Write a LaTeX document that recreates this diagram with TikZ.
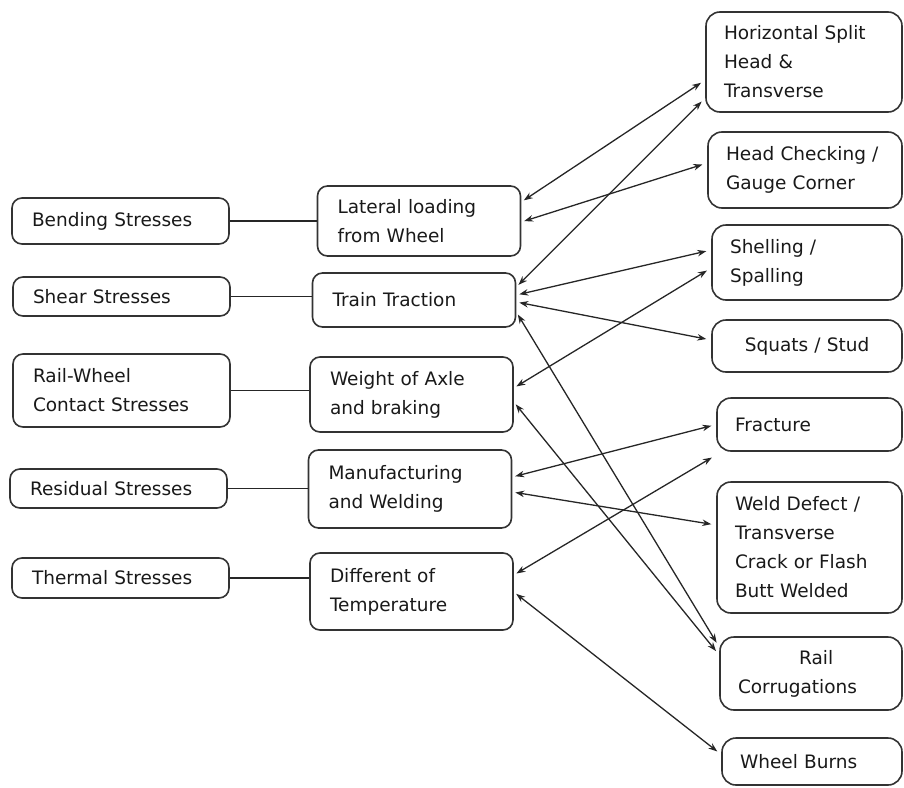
\documentclass[tikz,border=0pt]{standalone}
\usepackage{fontspec}
\setmainfont{DejaVu Sans}
\usetikzlibrary{arrows.meta}

\tikzset{
  box/.style={draw=black!80, line width=1.6pt, rounded corners=10pt, inner xsep=20pt, align=left,
    text=black!90, font=\fontsize{18.5}{29}\selectfont},
  stressbox/.style={box, text width=177pt},
  causebox/.style={box, text width=163pt},
  defectbox/.style={box, rounded corners=14pt, inner xsep=18pt},
  plain/.style={line width=1.5pt, draw=black!85},
  twoway/.style={{Stealth[length=9pt,width=6.5pt]}-{Stealth[length=9pt,width=6.5pt]}, line width=1.3pt,
    draw=black!85, shorten <=3pt, shorten >=5pt}
}

\begin{document}
\begin{tikzpicture}[x=1pt,y=-1pt]
\useasboundingbox (0,0) rectangle (904,787);

\node[stressbox, minimum height=46pt] (bend) at (120.5,221) {Bending Stresses};
\node[stressbox, minimum height=39pt] (shear) at (121.5,296.5) {Shear Stresses};
\node[stressbox, minimum height=73pt] (contact) at (121.5,390.5) {Rail-Wheel\\Contact Stresses};
\node[stressbox, minimum height=39pt] (resid) at (118.5,488.5) {Residual Stresses};
\node[stressbox, minimum height=40pt] (therm) at (120.5,578) {Thermal Stresses};

\node[causebox, minimum height=70pt] (lat) at (419,221) {Lateral loading\\from Wheel};
\node[causebox, minimum height=54pt] (trac) at (414,300) {Train Traction};
\node[causebox, minimum height=75pt] (axle) at (411.5,394.5) {Weight of Axle\\and braking};
\node[causebox, minimum height=78pt] (manu) at (410,489) {Manufacturing\\and Welding};
\node[causebox, minimum height=77pt] (temp) at (411.5,591.5) {Different of\\Temperature};

\node[defectbox, text width=160pt, minimum height=100pt] (split) at (804,62) {Horizontal Split\\Head \&\\Transverse};
\node[defectbox, text width=158pt, minimum height=76pt] (check) at (805,170) {Head Checking /\\Gauge Corner};
\node[defectbox, text width=154pt, minimum height=75pt] (shell) at (807,262.5) {Shelling /\\Spalling};
\node[defectbox, text width=154pt, minimum height=52pt, align=center] (squat) at (807,346) {Squats / Stud};
\node[defectbox, text width=149pt, minimum height=53pt] (frac) at (809.5,424.5) {Fracture};
\node[defectbox, text width=149pt, minimum height=131pt] (weld) at (809.5,547.5) {Weld Defect /\\Transverse\\Crack or Flash\\Butt Welded};
\node[defectbox, text width=146pt, minimum height=73pt] (corr) at (811,673.5) {\hspace*{3.3em}Rail\\Corrugations};
\node[defectbox, text width=144pt, minimum height=47pt] (burn) at (812,761.5) {Wheel Burns};

\draw[plain] (bend.east) -- (bend.east -| lat.west);
\draw[plain] (shear.east) -- (shear.east -| trac.west);
\draw[plain] (contact.east) -- (contact.east -| axle.west);
\draw[plain] (resid.east) -- (resid.east -| manu.west);
\draw[plain] (therm.east) -- (therm.east -| temp.west);

\draw[twoway] ([yshift=19pt]lat.east) -- ([yshift=-18pt]split.west);
\draw[twoway] ([yshift=-1pt]lat.east) -- ([yshift=7pt]check.west);
\draw[twoway] ([yshift=13pt]trac.east) -- ([yshift=-36pt]split.west);
\draw[twoway] ([yshift=5pt]trac.east) -- ([yshift=12.5pt]shell.west);
\draw[twoway] ([yshift=-2pt]trac.east) -- ([yshift=6pt]squat.west);
\draw[twoway] ([yshift=-12pt]trac.east) -- ([yshift=26.5pt]corr.west);
\draw[twoway] ([yshift=6.5pt]axle.east) -- ([yshift=-5.5pt]shell.west);
\draw[twoway] ([yshift=-7.5pt]axle.east) -- ([yshift=18.5pt]corr.west);
\draw[twoway] ([yshift=12pt]manu.east) -- (frac.west);
\draw[twoway] ([yshift=-3pt]manu.east) -- ([yshift=22.5pt]weld.west);
\draw[twoway] ([yshift=16.5pt]temp.east) -- ([yshift=-30.5pt]frac.west);
\draw[twoway] ([yshift=-0.5pt]temp.east) -- ([yshift=7pt]burn.west);
\end{tikzpicture}
\end{document}
